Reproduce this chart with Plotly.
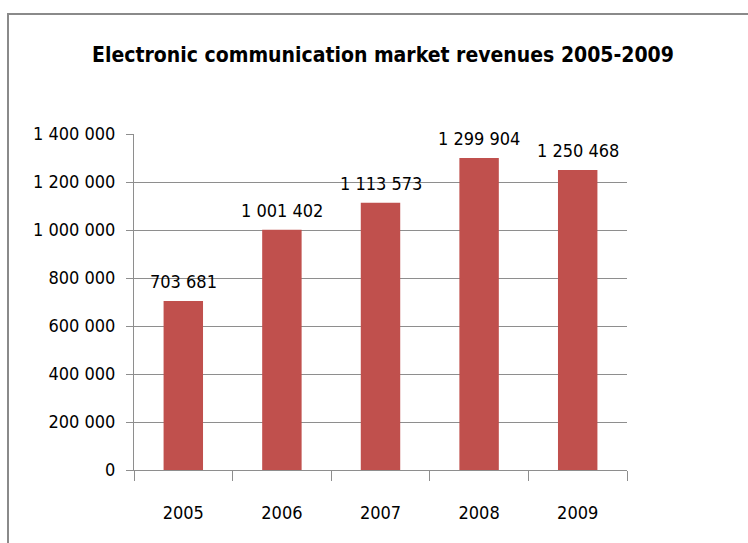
import plotly.graph_objects as go

# Market revenues by year
years = ["2005", "2006", "2007", "2008", "2009"]
revenues = [703681, 1001402, 1113573, 1299904, 1250468]
y_ticks = [0, 200000, 400000, 600000, 800000, 1000000, 1200000, 1400000]

FONT = "DejaVu Sans Condensed, DejaVu Sans, sans-serif"
GRID = "#8e8e8e"
BAR = "#C0504D"


def fmt(v):
    return f"{v:,}".replace(",", " ")


fig = go.Figure(
    go.Bar(
        x=years,
        y=revenues,
        marker=dict(color=BAR, line=dict(width=0)),
        hoverinfo="skip",
    )
)

# Value labels above each bar (category positions by index)
for i, v in enumerate(revenues):
    fig.add_annotation(
        x=i, y=v, text=fmt(v), showarrow=False,
        xref="x", yref="y",
        yanchor="bottom", yshift=7,
        font=dict(family=FONT, size=18, color="#000000"),
    )

# Outer frame of the chart area
L, R, T, B = 134, 121, 134, 73
W, H = 748, 543
pw, ph = W - L - R, H - T - B


def px_x(p):
    return (p - L) / pw


def px_y(p):
    return (H - B - p) / ph


fig.add_shape(
    type="rect", xref="paper", yref="paper",
    x0=px_x(8), x1=px_x(780), y0=px_y(580), y1=px_y(14),
    line=dict(color="#8a8a8a", width=2), layer="below",
)

fig.update_layout(
    width=W, height=H,
    margin=dict(l=L, r=R, t=T, b=B),
    paper_bgcolor="white", plot_bgcolor="white",
    separators=". ",
    bargap=0.6,
    showlegend=False,
    title=dict(
        text="<b>Electronic communication market revenues 2005-2009</b>",
        x=px_x(383), xanchor="center", xref="paper",
        y=1 - 55 / H, yanchor="middle",
        font=dict(family=FONT, size=21, color="#000000"),
    ),
    xaxis=dict(
        type="category",
        range=[-0.5, 4.5],
        showline=True, linecolor=GRID, linewidth=1,
        ticks="outside", ticklen=10, tickcolor=GRID, tickson="boundaries",
        showgrid=False,
        tickangle=0,
        tickfont=dict(family=FONT, size=18, color="#000000"),
        ticklabelstandoff=26,
    ),
    yaxis=dict(
        range=[0, 1400000],
        tickvals=y_ticks,
        ticktext=[fmt(v) for v in y_ticks],
        showline=True, linecolor=GRID, linewidth=1,
        ticks="outside", ticklen=7, tickcolor=GRID,
        showgrid=True, gridcolor=GRID, gridwidth=1,
        zeroline=False,
        tickfont=dict(family=FONT, size=18, color="#000000"),
        ticklabelstandoff=7,
    ),
)

fig.write_html("out.html")
